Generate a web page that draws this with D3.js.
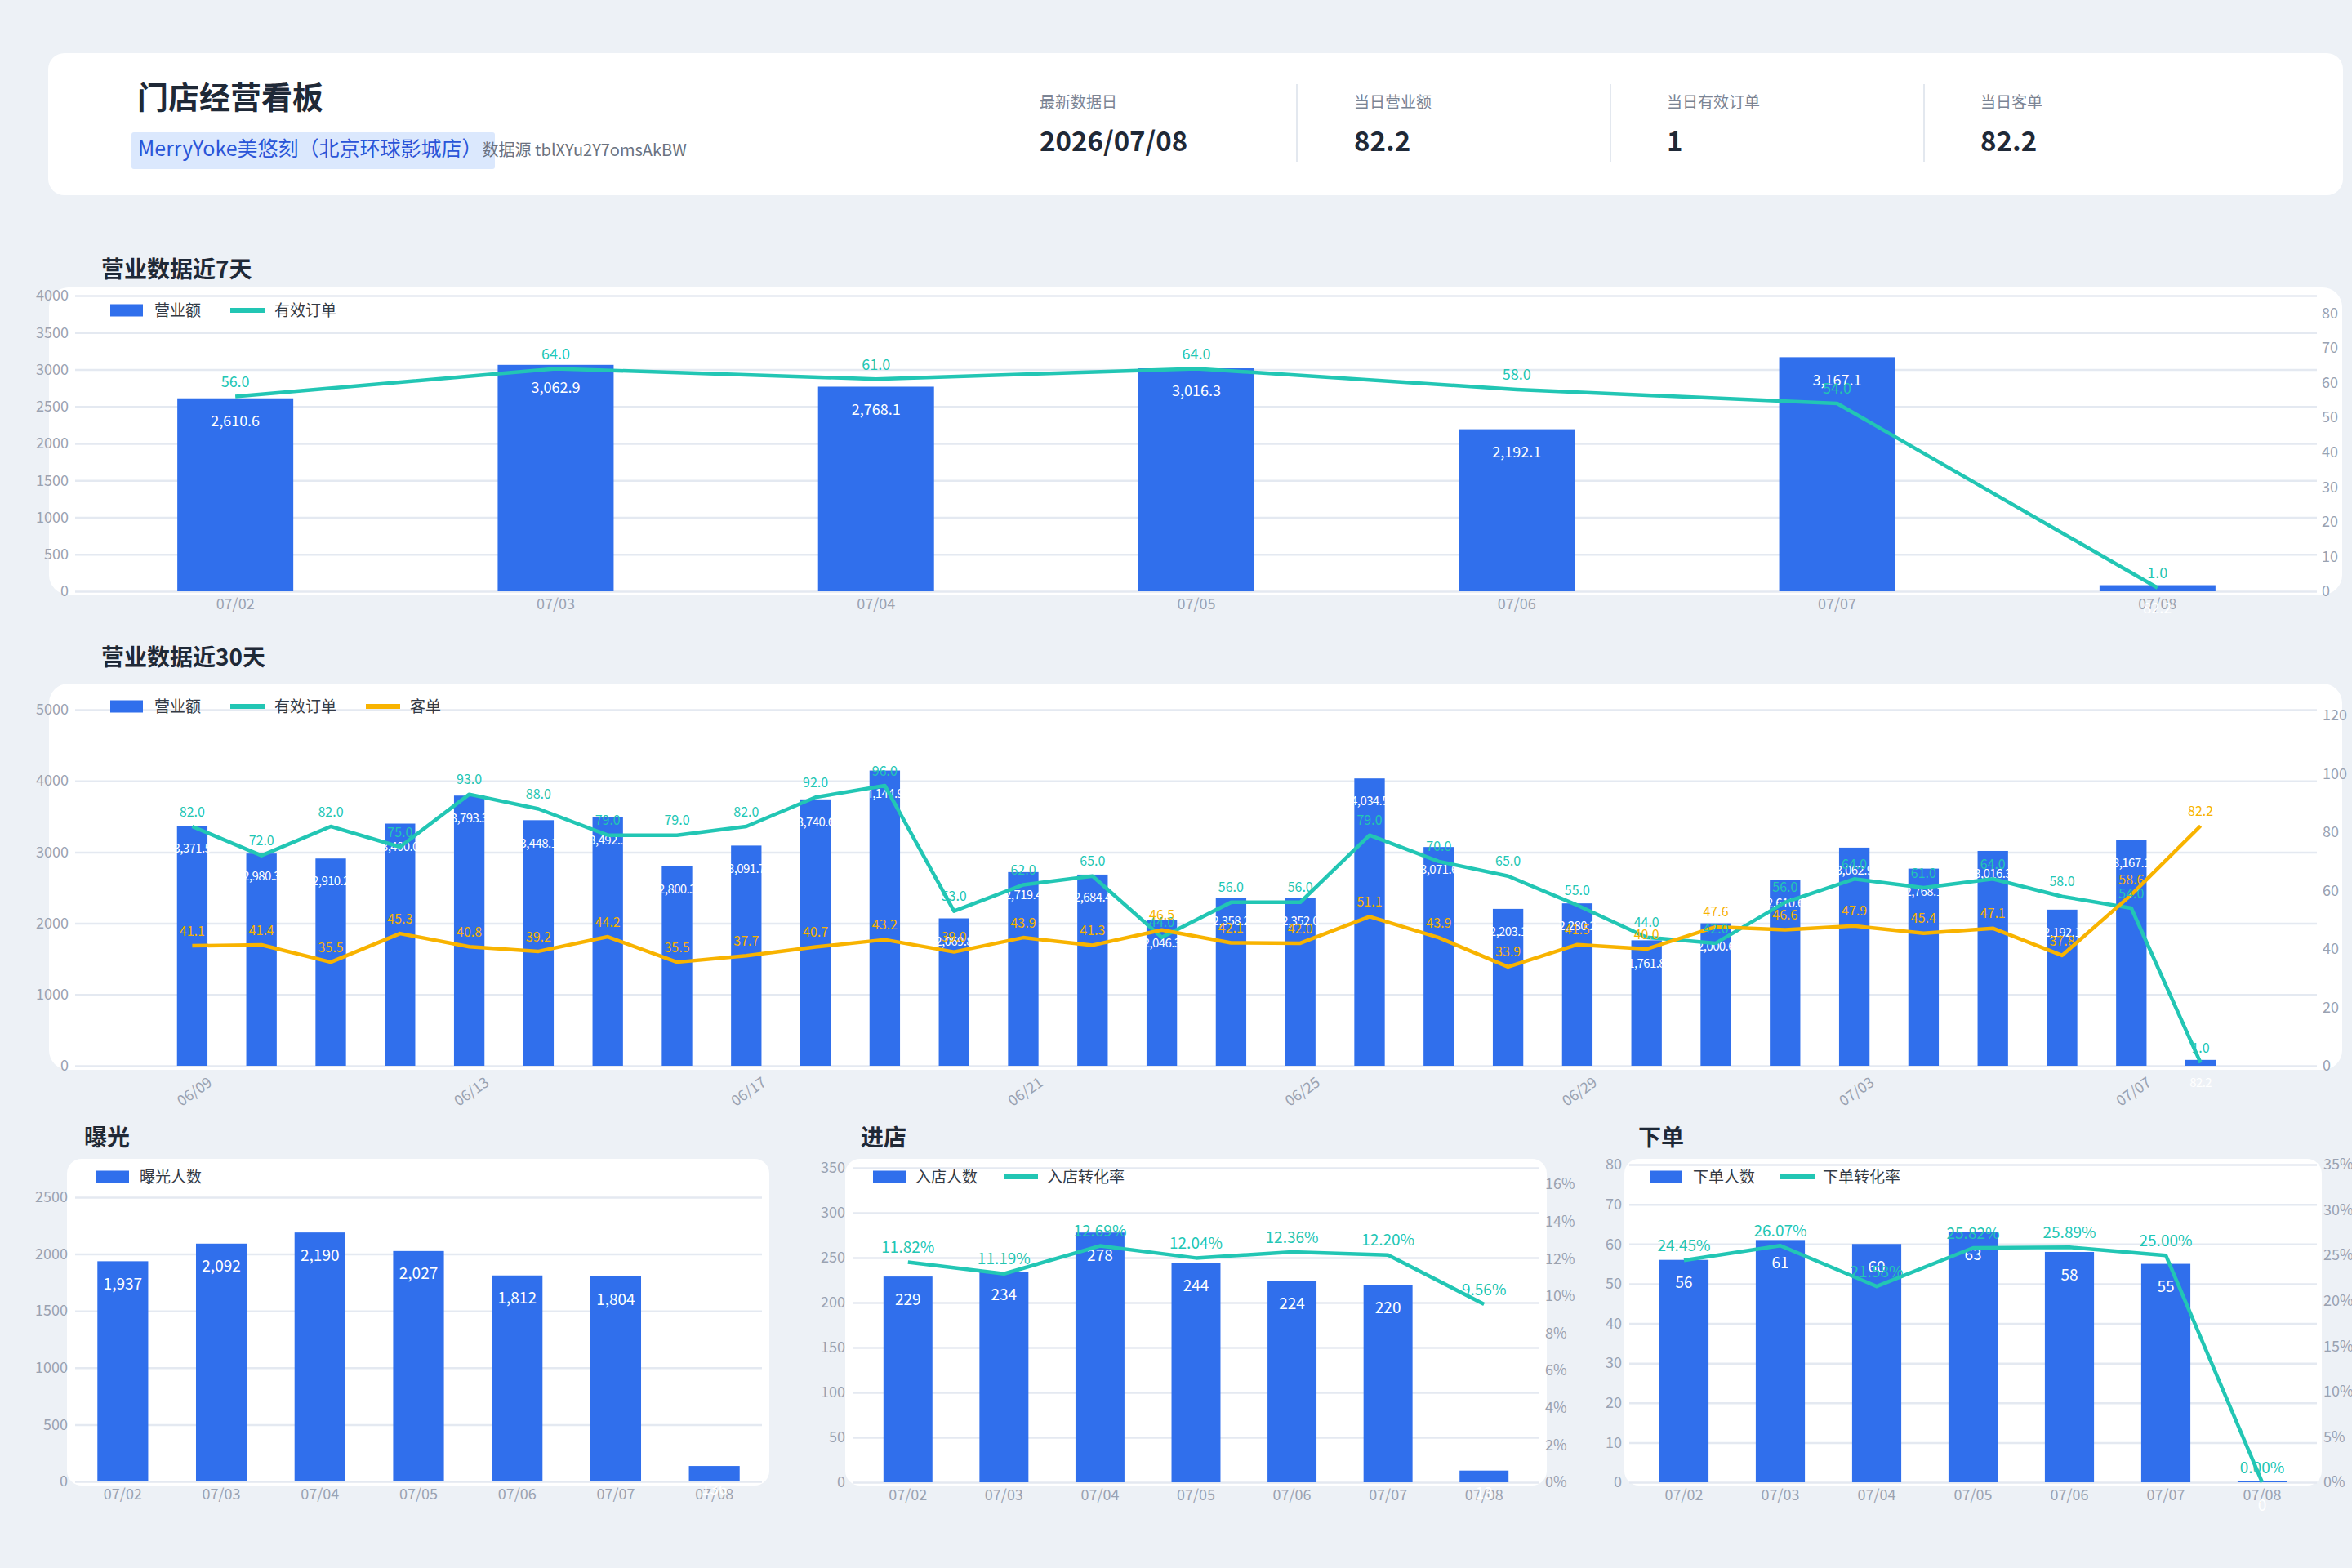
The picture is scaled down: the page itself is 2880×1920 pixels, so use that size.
<!DOCTYPE html>
<html>
<head>
<meta charset="utf-8">
<script src="https://cdn.jsdelivr.net/npm/d3@7"></script>
<style>
  body { margin: 0; background: #edf1f6; }
  svg text { font-family: "Noto Sans CJK SC", "Noto Sans", sans-serif; }
</style>
</head>
<body>
<script>
var width = 2880;
var height = 1920;
var FONT = '"Noto Sans CJK SC", "Noto Sans", sans-serif';
var BLUE = '#306fec';
var TEAL = '#22c6b4';
var ORANGE = '#f8b300';
var GRID = '#e4e9f1';
var TICK = '#9aa2b1';
var DARK = '#1f2937';

// header data
var statLabels = ['最新数据日', '当日营业额', '当日有效订单', '当日客单'];
var statValues = ['2026/07/08', '82.2', '1', '82.2'];

// last 7 days
var days7 = ['07/02', '07/03', '07/04', '07/05', '07/06', '07/07', '07/08'];
var revenue7 = [2610.6, 3062.9, 2768.1, 3016.3, 2192.1, 3167.1, 82.2];
var orders7 = [56, 64, 61, 64, 58, 54, 1];

// last 30 days
var days30 = ['06/09', '06/10', '06/11', '06/12', '06/13', '06/14', '06/15', '06/16', '06/17', '06/18',
  '06/19', '06/20', '06/21', '06/22', '06/23', '06/24', '06/25', '06/26', '06/27', '06/28',
  '06/29', '06/30', '07/01', '07/02', '07/03', '07/04', '07/05', '07/06', '07/07', '07/08'];
var revenue30 = [3371.5, 2980.3, 2910.2, 3400.0, 3793.3, 3448.1, 3492.3, 2800.3, 3091.7, 3740.6,
  4144.9, 2069.8, 2719.4, 2684.4, 2046.3, 2358.2, 2352.0, 4034.5, 3071.6, 2203.1,
  2280.2, 1761.8, 2000.6, 2610.6, 3062.9, 2768.1, 3016.3, 2192.1, 3167.1, 82.2];
var orders30 = [82, 72, 82, 75, 93, 88, 79, 79, 82, 92,
  96, 53, 62, 65, 44, 56, 56, 79, 70, 65,
  55, 44, 42, 56, 64, 61, 64, 58, 54, 1];
var avg30 = [41.1, 41.4, 35.5, 45.3, 40.8, 39.2, 44.2, 35.5, 37.7, 40.7,
  43.2, 39.0, 43.9, 41.3, 46.5, 42.1, 42.0, 51.1, 43.9, 33.9,
  41.5, 40.0, 47.6, 46.6, 47.9, 45.4, 47.1, 37.8, 58.6, 82.2];

// funnel
var exposure = [1937, 2092, 2190, 2027, 1812, 1804, 136];
var visitors = [229, 234, 278, 244, 224, 220, 13];
var visitRate = [11.82, 11.19, 12.69, 12.04, 12.36, 12.20, 9.56];
var buyers = [56, 61, 60, 63, 58, 55, 0];
var buyRate = [24.45, 26.07, 21.58, 25.82, 25.89, 25.00, 0.00];

// tick labels
var ticks7L = [0, 500, 1000, 1500, 2000, 2500, 3000, 3500, 4000];
var ticks7R = [0, 10, 20, 30, 40, 50, 60, 70, 80];
var ticks30L = [0, 1000, 2000, 3000, 4000, 5000];
var ticks30R = [0, 20, 40, 60, 80, 100, 120];
var ticksExpo = [0, 500, 1000, 1500, 2000, 2500];
var ticksVisit = [0, 50, 100, 150, 200, 250, 300, 350];
var ticksVisitR = [0, 2, 4, 6, 8, 10, 12, 14, 16];
var ticksBuy = [0, 10, 20, 30, 40, 50, 60, 70, 80];
var ticksBuyR = [0, 5, 10, 15, 20, 25, 30, 35];

var svg = d3.select('body').append('svg')
  .attr('width', width)
  .attr('height', height);

function card(x, y, w, h, r) {
  svg.append('rect')
    .attr('x', x).attr('y', y).attr('width', w).attr('height', h)
    .attr('rx', r).attr('ry', r)
    .style('fill', '#ffffff');
}

function title(txt, x, y, size) {
  svg.append('text')
    .attr('x', x).attr('y', y).attr('dy', '0.35em')
    .style('font-size', size + 'px').style('font-weight', 700)
    .style('fill', DARK)
    .text(txt);
}

/* ---------------- header ---------------- */
card(59, 65, 2810, 174, 20);
title('门店经营看板', 168, 120, 38);

svg.append('rect')
  .attr('x', 161).attr('y', 162).attr('width', 445).attr('height', 45)
  .attr('rx', 3).style('fill', '#dbe8fd');
var sub = svg.append('text').attr('x', 169).attr('y', 185).attr('dy', '0.35em');
sub.append('tspan').style('font-size', '25px').style('fill', '#2a55d8').text('MerryYoke美悠刻（北京环球影城店）');
sub.append('tspan').style('font-size', '20px').style('fill', '#6b7280').text('数据源 tblXYu2Y7omsAkBW');

var statX = [1273, 1658, 2041, 2425];
svg.selectAll('text.statLabel')
  .data(statLabels).enter().append('text')
  .attr('class', 'statLabel')
  .attr('x', function (d, i) { return statX[i]; })
  .attr('y', 125).attr('dy', '0.35em')
  .style('font-size', '19px').style('fill', '#7b8494')
  .text(function (d) { return d; });
svg.selectAll('text.statValue')
  .data(statValues).enter().append('text')
  .attr('class', 'statValue')
  .attr('x', function (d, i) { return statX[i]; })
  .attr('y', 173).attr('dy', '0.35em')
  .style('font-size', '33px').style('font-weight', 700).style('fill', DARK)
  .text(function (d) { return d; });
svg.selectAll('line.divider')
  .data([1588, 1972, 2356]).enter().append('line')
  .attr('class', 'divider')
  .attr('x1', function (d) { return d; }).attr('x2', function (d) { return d; })
  .attr('y1', 103).attr('y2', 198)
  .style('stroke', '#e3e8ef').style('stroke-width', 2);

/* ---------------- combo chart ---------------- */
function drawCombo(o) {
  var g = svg.append('g');
  var x = d3.scaleBand().domain(o.cats).range(o.band);
  var yL = d3.scaleLinear().domain(o.leftDomain).range([o.bottom, o.top]);
  var yR = o.rightDomain ? d3.scaleLinear().domain(o.rightDomain).range([o.bottom, o.top]) : null;
  var cx = function (d) { return x(d) + x.bandwidth() / 2; };

  // gridlines + left labels
  g.append('g')
    .attr('transform', 'translate(' + o.grid[0] + ',0)')
    .call(d3.axisLeft(yL).tickValues(o.leftTicks).tickFormat(d3.format('d'))
      .tickSize(-(o.grid[1] - o.grid[0])).tickPadding(o.grid[0] - o.leftX))
    .call(function (a) { a.select('.domain').remove(); })
    .call(function (a) {
      a.attr('font-family', FONT);
      a.selectAll('line').style('stroke', GRID).style('stroke-width', 2.5);
      a.selectAll('text').style('fill', TICK).style('font-size', '18px');
    });

  // right labels
  if (yR) {
    g.append('g')
      .attr('transform', 'translate(' + o.grid[1] + ',0)')
      .call(d3.axisRight(yR).tickValues(o.rightTicks).tickSize(0).tickPadding(o.rightX - o.grid[1])
        .tickFormat(o.rightFmt || d3.format('d')))
      .call(function (a) { a.select('.domain').remove(); })
      .call(function (a) {
        a.attr('font-family', FONT);
        a.selectAll('text').style('fill', TICK).style('font-size', '18px');
      });
  }

  // x labels
  var xa = d3.axisBottom(x).tickSize(0).tickPadding(9);
  if (o.xTicks) xa.tickValues(o.xTicks);
  var xg = g.append('g')
    .attr('transform', 'translate(0,' + o.bottom + ')')
    .call(xa)
    .call(function (a) { a.select('.domain').remove(); })
    .call(function (a) {
      a.attr('font-family', FONT);
      a.selectAll('text').style('fill', TICK).style('font-size', '18px');
    });
  if (o.rotate) {
    xg.selectAll('text')
      .attr('x', 0).attr('y', 0).attr('dy', '0.35em')
      .attr('text-anchor', 'end')
      .attr('transform', 'translate(22,18) rotate(-35)');
  }

  // bars
  var bw = x.step() * o.barRatio;
  g.selectAll('rect.bar')
    .data(o.bars).enter().append('rect')
    .attr('class', 'bar')
    .attr('x', function (d, i) { return cx(o.cats[i]) - bw / 2; })
    .attr('y', function (d) { return Math.min(yL(d), o.bottom - 2); })
    .attr('width', bw)
    .attr('height', function (d) { return Math.max(o.bottom - yL(d), 2); })
    .style('fill', BLUE);

  g.selectAll('text.barLabel')
    .data(o.bars).enter().append('text')
    .attr('class', 'barLabel')
    .attr('x', function (d, i) { return cx(o.cats[i]); })
    .attr('y', function (d) { return yL(d) + 28; })
    .attr('dy', '0.35em')
    .attr('text-anchor', 'middle')
    .style('font-size', o.barFont + 'px')
    .style('letter-spacing', (o.barSpacing || 0) + 'px')
    .style('fill', '#ffffff')
    .text(function (d) { return o.barFmt(d); });

  // lines
  (o.lines || []).forEach(function (ln) {
    var line = d3.line()
      .x(function (d, i) { return cx(o.cats[i]); })
      .y(function (d) { return yR(d); });
    g.append('path')
      .datum(ln.values)
      .attr('d', line)
      .style('fill', 'none')
      .style('stroke', ln.color)
      .style('stroke-width', 4.5)
      .style('stroke-linejoin', 'round');
  });
  (o.lines || []).forEach(function (ln) {
    g.selectAll(null)
      .data(ln.values).enter().append('text')
      .attr('x', function (d, i) { return cx(o.cats[i]); })
      .attr('y', function (d) { return yR(d) - 18; })
      .attr('dy', '0.35em')
      .attr('text-anchor', 'middle')
      .style('font-size', o.lineFont + 'px')
      .style('fill', ln.color)
      .text(function (d) { return ln.fmt(d); });
  });

  // legend
  var lg = g.append('g');
  o.legend.forEach(function (it) {
    if (it.type === 'bar') {
      lg.append('rect').attr('x', it.x).attr('y', o.legendY - 7.5)
        .attr('width', 40).attr('height', 15).style('fill', it.color);
    } else {
      lg.append('line').attr('x1', it.x).attr('x2', it.x + 42)
        .attr('y1', o.legendY).attr('y2', o.legendY)
        .style('stroke', it.color).style('stroke-width', 6);
    }
    lg.append('text').attr('x', it.tx).attr('y', o.legendY).attr('dy', '0.35em')
      .style('font-size', '19px').style('fill', '#333a45').text(it.label);
  });
}

var fmtMoney = d3.format(',.1f');
var fmt1 = d3.format('.1f');
var fmtInt = d3.format(',d');
var fmtPct = function (d) { return d3.format('.2f')(d) + '%'; };

/* ---------------- 营业数据近7天 ---------------- */
title('营业数据近7天', 124, 330, 28);
card(60, 352, 2808, 376, 24);
drawCombo({
  cats: days7, band: [92, 2838], top: 362, bottom: 724,
  grid: [92, 2837], leftX: 84, rightX: 2843,
  leftDomain: [0, 4000], leftTicks: ticks7L,
  rightDomain: [0, 85], rightTicks: ticks7R,
  bars: revenue7, barRatio: 0.362, barFmt: fmtMoney, barFont: 18,
  lines: [{ values: orders7, color: TEAL, fmt: fmt1 }], lineFont: 18,
  legendY: 380,
  legend: [
    { type: 'bar', color: BLUE, x: 135, tx: 189, label: '营业额' },
    { type: 'line', color: TEAL, x: 282, tx: 336, label: '有效订单' }
  ]
});

/* ---------------- 营业数据近30天 ---------------- */
title('营业数据近30天', 124, 805, 28);
card(60, 837, 2808, 473, 24);
drawCombo({
  cats: days30, band: [193, 2737], top: 869, bottom: 1305,
  grid: [92, 2837], leftX: 84, rightX: 2844,
  leftDomain: [0, 5000], leftTicks: ticks30L,
  rightDomain: [0, 122], rightTicks: ticks30R,
  xTicks: days30.filter(function (d, i) { return i % 4 === 0; }), rotate: true,
  bars: revenue30, barRatio: 0.44, barFmt: fmtMoney, barFont: 15, barSpacing: -0.6,
  lines: [
    { values: orders30, color: TEAL, fmt: fmt1 },
    { values: avg30, color: ORANGE, fmt: fmt1 }
  ], lineFont: 16,
  legendY: 865,
  legend: [
    { type: 'bar', color: BLUE, x: 135, tx: 189, label: '营业额' },
    { type: 'line', color: TEAL, x: 282, tx: 336, label: '有效订单' },
    { type: 'line', color: ORANGE, x: 448, tx: 502, label: '客单' }
  ]
});

/* ---------------- 曝光 ---------------- */
title('曝光', 103, 1393, 28);
card(82, 1419, 860, 400, 18);
drawCombo({
  cats: days7, band: [90, 935], top: 1466, bottom: 1814,
  grid: [92, 933], leftX: 83,
  leftDomain: [0, 2500], leftTicks: ticksExpo,
  bars: exposure, barRatio: 0.515, barFmt: fmtInt, barFont: 19,
  legendY: 1441,
  legend: [{ type: 'bar', color: BLUE, x: 118, tx: 171, label: '曝光人数' }]
});

/* ---------------- 进店 ---------------- */
title('进店', 1054, 1393, 28);
card(1035, 1419, 859, 400, 18);
drawCombo({
  cats: days7, band: [1053, 1876], top: 1430, bottom: 1815,
  grid: [1044, 1884], leftX: 1035, rightX: 1892,
  leftDomain: [0, 350], leftTicks: ticksVisit,
  rightDomain: [0, 16.88], rightTicks: ticksVisitR, rightFmt: function (d) { return d + '%'; },
  bars: visitors, barRatio: 0.51, barFmt: fmtInt, barFont: 19,
  lines: [{ values: visitRate, color: TEAL, fmt: fmtPct }], lineFont: 19,
  legendY: 1441,
  legend: [
    { type: 'bar', color: BLUE, x: 1069, tx: 1121, label: '入店人数' },
    { type: 'line', color: TEAL, x: 1229, tx: 1282, label: '入店转化率' }
  ]
});

/* ---------------- 下单 ---------------- */
title('下单', 2006, 1393, 28);
card(1989, 1419, 854, 400, 18);
drawCombo({
  cats: days7, band: [2003, 2829], top: 1426, bottom: 1815,
  grid: [1995, 2837], leftX: 1986, rightX: 2845,
  leftDomain: [0, 80], leftTicks: ticksBuy,
  rightDomain: [0, 35], rightTicks: ticksBuyR, rightFmt: function (d) { return d + '%'; },
  bars: buyers, barRatio: 0.51, barFmt: fmtInt, barFont: 19,
  lines: [{ values: buyRate, color: TEAL, fmt: fmtPct }], lineFont: 19,
  legendY: 1441,
  legend: [
    { type: 'bar', color: BLUE, x: 2020, tx: 2073, label: '下单人数' },
    { type: 'line', color: TEAL, x: 2180, tx: 2232, label: '下单转化率' }
  ]
});
</script>
</body>
</html>
